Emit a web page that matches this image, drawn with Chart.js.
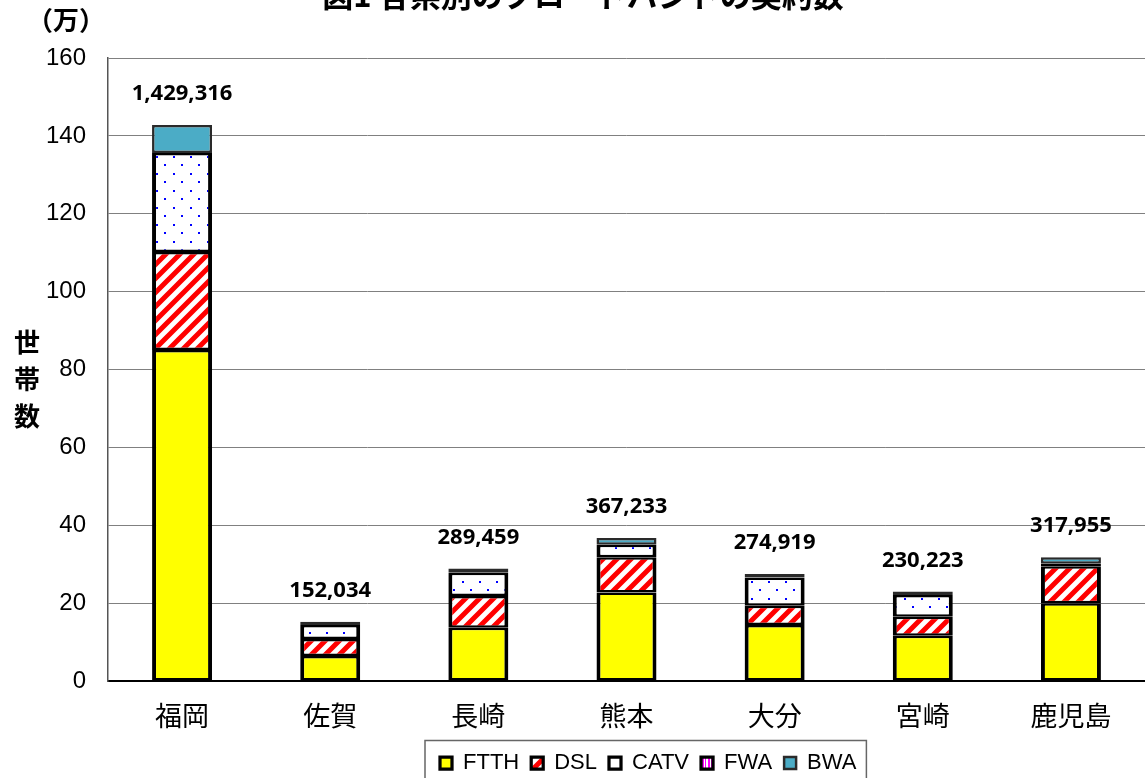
<!DOCTYPE html>
<html lang="ja">
<head>
<meta charset="utf-8">
<script src="https://cdn.jsdelivr.net/npm/chart.js@4.4.1/dist/chart.umd.min.js"></script>
<style>
  html, body { margin: 0; padding: 0; background: #fff; overflow: hidden; }
  #wrap { width: 1145px; height: 778px; overflow: hidden; }
</style>
</head>
<body>
<div id="wrap"><canvas id="chart" width="1145" height="784"></canvas></div>
<script>
// prefectures and values in units of 10,000 households
const prefectures = ['福岡', '佐賀', '長崎', '熊本', '大分', '宮崎', '鹿児島'];
const ftth = [85.0, 6.4, 13.7, 22.7, 14.4, 11.6, 20.0];
const dsl  = [25.2, 4.4, 8.1, 9.1, 4.9, 4.9, 9.5];
const catv = [25.4, 3.6, 6.0, 3.2, 7.3, 5.6, 0.6];
const fwa  = [0, 0, 0, 0, 0, 0, 0];
const bwa  = [7.2, 0.8, 1.1, 1.7, 0.9, 0.9, 1.7];
const contracts = [1429316, 152034, 289459, 367233, 274919, 230223, 317955];
const yTicks = [0, 20, 40, 60, 80, 100, 120, 140, 160];

const chartTitle = '図1 各県別のブロードバンドの契約数';
const unitLabel = '（万）';
const yTitle = ['世', '帯', '数'];

// --- fill patterns ---
function makePattern(w, h, paint) {
    const c = document.createElement('canvas');
    c.width = w; c.height = h;
    const g = c.getContext('2d');
    g.fillStyle = '#fff';
    g.fillRect(0, 0, w, h);
    paint(g);
    return g.createPattern(c, 'repeat');
}
const ctx = document.getElementById('chart').getContext('2d');

const stripes = makePattern(14, 14, g => {
    g.strokeStyle = '#ff0000';
    g.lineWidth = 5;
    g.beginPath();
    g.moveTo(-7, 7); g.lineTo(7, -7);
    g.moveTo(0, 14); g.lineTo(14, 0);
    g.moveTo(7, 21); g.lineTo(21, 7);
    g.stroke();
});
const dots = makePattern(17, 17, g => {
    g.fillStyle = '#0000ff';
    g.fillRect(3, 3, 2, 2);
    g.fillRect(11, 11, 2, 2);
});
const vstripes = makePattern(6, 6, g => {
    g.fillStyle = '#ff00ff';
    g.fillRect(0, 0, 2, 6);
    g.fillRect(3, 0, 1, 6);
});

const segBorder = { top: 2.5, bottom: 2.5, left: 4, right: 4 };

function ds(label, data, bg, border, width) {
    return {
        label: label,
        data: data,
        backgroundColor: bg,
        borderColor: border,
        borderWidth: width,
        borderSkipped: false,
        barPercentage: 0.81,
        categoryPercentage: 0.5,
        stack: 'all'
    };
}

// --- overlay texts and legend frame ---
const extras = {
    id: 'extras',
    afterLayout(chart) {
        const lg = chart.legend;
        if (!lg || !lg.lineWidths) return;
        const pad = lg.options.labels.padding;
        const start = (lg.left + pad + lg.right - lg.lineWidths[0]) / 2;
        const shift = 440 - start;
        lg.left += shift;
        lg.right += shift;
    },
    afterDatasetsDraw(chart) {
        const c = chart.ctx;
        const y = chart.scales.y;
        const x = chart.scales.x;
        c.save();
        c.font = 'bold 22px "Open Sans"';
        c.textAlign = 'center';
        c.textBaseline = 'middle';
        c.fillStyle = '#000';
        prefectures.forEach((p, i) => {
            const total = ftth[i] + dsl[i] + catv[i] + fwa[i] + bwa[i];
            const cx = x.getPixelForValue(i);
            const cy = y.getPixelForValue(total) - 31;
            c.fillText(contracts[i].toLocaleString('en-US'), cx, cy);
        });
        c.restore();
    },
    afterDraw(chart) {
        const c = chart.ctx;
        c.save();
        c.fillStyle = '#000';
        c.textAlign = 'center';
        c.textBaseline = 'middle';
        c.font = 'bold 31px "Noto Sans CJK JP"';
        c.fillText(chartTitle, 583, -5);
        c.font = 'bold 26px "Noto Sans CJK JP"';
        c.fillText(unitLabel, 66, 20);
        yTitle.forEach((ch, i) => c.fillText(ch, 27, 342 + i * 37));

        const lg = chart.legend;
        if (lg && lg.legendHitBoxes && lg.legendHitBoxes.length) {
            const hb = lg.legendHitBoxes;
            const first = hb[0], last = hb[hb.length - 1];
            c.strokeStyle = '#666';
            c.lineWidth = 1.5;
            c.strokeRect(first.left - 15, lg.top + 0.5, (last.left + last.width + 10) - (first.left - 15), 60);
        }
        c.restore();
    }
};

new Chart(ctx, {
    type: 'bar',
    data: {
        labels: prefectures,
        datasets: [
            ds('FTTH', ftth, '#ffff00', '#000', segBorder),
            ds('DSL', dsl, stripes, '#000', segBorder),
            ds('CATV', catv, dots, '#000', segBorder),
            ds('FWA', fwa, vstripes, '#000', segBorder),
            ds('BWA', bwa, '#4bacc6', '#2a2a2a', 2.5)
        ]
    },
    options: {
        responsive: false,
        animation: false,
        layout: { padding: { top: 58, left: 0, right: 0, bottom: 0 } },
        plugins: {
            title: { display: false },
            tooltip: { enabled: false },
            legend: {
                position: 'bottom',
                labels: {
                    boxWidth: 12,
                    boxHeight: 12,
                    padding: 12,
                    color: '#000',
                    font: { size: 22, family: '"Liberation Sans", Arial, sans-serif' }
                }
            }
        },
        scales: {
            x: {
                stacked: true,
                grid: { display: false, drawTicks: false },
                border: { display: true, color: '#000', width: 2 },
                ticks: {
                    color: '#000',
                    padding: 19,
                    font: { size: 27, family: '"Noto Sans CJK JP"' }
                },
                afterFit(scale) { scale.height = 59; }
            },
            y: {
                stacked: true,
                min: 0,
                max: 160,
                afterBuildTicks(scale) { scale.ticks = yTicks.map(v => ({ value: v })); },
                grid: { color: '#808080', lineWidth: 1, drawTicks: false },
                border: { display: true, color: '#555', width: 1.5 },
                ticks: {
                    color: '#000',
                    padding: 22,
                    font: { size: 24, family: '"Liberation Sans", Arial, sans-serif' }
                },
                afterFit(scale) { scale.width = 108; }
            }
        }
    },
    plugins: [extras]
});
</script>
</body>
</html>
